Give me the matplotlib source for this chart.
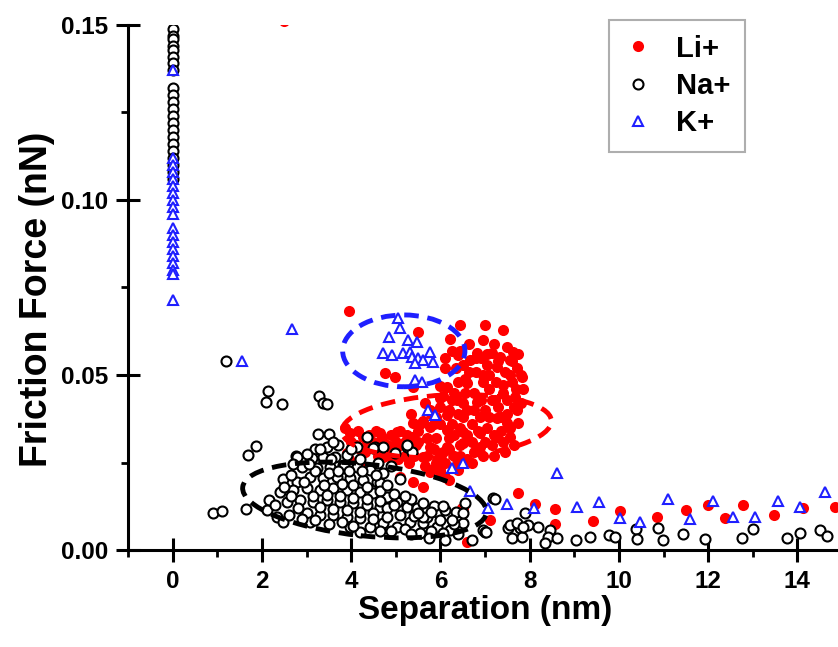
import numpy as np
import matplotlib
matplotlib.use('Agg')
import matplotlib.pyplot as plt
from matplotlib.patches import Ellipse
from matplotlib.transforms import Affine2D
from matplotlib.ticker import MultipleLocator

plt.rcParams['font.family'] = ['Liberation Sans', 'DejaVu Sans']
plt.rcParams['font.weight'] = 'bold'

# Li+ (x nm, friction nN)
li_points = [
    (2.49, 0.1511),
    (3.95, 0.0683), (5.49, 0.0623), (6.44, 0.0643), (7.0, 0.0643), (7.4, 0.0629),
    (4.75, 0.0506), (4.98, 0.0494), (5.38, 0.0466), (6.21, 0.0603), (6.39, 0.0557),
    (6.82, 0.0563), (7.15, 0.0563), (7.62, 0.0566), (7.33, 0.0551), (7.56, 0.0543),
    (7.83, 0.0494), (7.71, 0.052), (6.1, 0.0549), (6.66, 0.0543), (7.04, 0.0529),
    (7.26, 0.0523), (6.14, 0.0466), (6.59, 0.0477), (6.95, 0.048), (7.4, 0.0471),
    (7.67, 0.0437), (7.74, 0.0363), (7.56, 0.0323), (7.71, 0.04), (5.99, 0.0434),
    (6.37, 0.0429), (6.82, 0.0423), (7.22, 0.0429), (5.76, 0.04), (6.14, 0.0386),
    (6.5, 0.038), (6.88, 0.038), (7.26, 0.0377), (7.49, 0.0363), (5.38, 0.0363),
    (5.76, 0.0351), (6.14, 0.0343), (6.5, 0.0337), (6.88, 0.0334), (7.26, 0.0323),
    (4.64, 0.0334), (5.02, 0.0337), (5.36, 0.0323), (4.26, 0.0323), (3.97, 0.0334),
    (5.02, 0.0294), (5.38, 0.0294), (5.76, 0.0294), (6.14, 0.0294), (6.5, 0.0306),
    (6.88, 0.0294), (5.61, 0.0266), (5.99, 0.0271), (6.37, 0.0263), (5.76, 0.0223),
    (5.99, 0.0223), (5.38, 0.0194), (3.9, 0.0277), (4.71, 0.0266), (4.42, 0.0294),
    (4.1, 0.030), (4.3, 0.028), (4.5, 0.031), (4.6, 0.027), (4.8, 0.030), (4.9, 0.033),
    (5.2, 0.031), (5.2, 0.027), (5.5, 0.031), (5.5, 0.034), (5.6, 0.037), (5.9, 0.032),
    (5.9, 0.038), (5.9, 0.025), (6.0, 0.047), (6.2, 0.040), (6.2, 0.032), (6.3, 0.027),
    (6.3, 0.045), (6.35, 0.052), (6.45, 0.035), (6.5, 0.042), (6.55, 0.049), (6.6, 0.026),
    (6.7, 0.031), (6.7, 0.036), (6.75, 0.045), (6.8, 0.051), (6.9, 0.055), (6.95, 0.027),
    (7.0, 0.040), (7.05, 0.035), (7.1, 0.046), (7.1, 0.050), (7.15, 0.030), (7.3, 0.041),
    (7.35, 0.034), (7.4, 0.045), (7.45, 0.051), (7.5, 0.039), (7.6, 0.048), (7.65, 0.030),
    (7.2, 0.027), (7.45, 0.028), (6.05, 0.028), (5.65, 0.024), (5.3, 0.025), (5.85, 0.036),
    (6.25, 0.036), (6.6, 0.040), (7.0, 0.031), (5.1, 0.034), (4.85, 0.027), (4.4, 0.033),
    (6.45, 0.057), (6.65, 0.059), (6.95, 0.060), (7.2, 0.059), (7.5, 0.058), (7.75, 0.056),
    (7.85, 0.046), (7.8, 0.042), (3.86, 0.035),
    (4.0, 0.031), (4.2, 0.029), (4.35, 0.031), (4.55, 0.029), (4.7, 0.032), (4.75, 0.028),
    (5.0, 0.031), (5.05, 0.026), (5.25, 0.033), (5.4, 0.027), (5.45, 0.030), (5.55, 0.036),
    (5.7, 0.027), (5.7, 0.032), (5.8, 0.039), (5.85, 0.029), (6.0, 0.036), (6.0, 0.041),
    (6.1, 0.025), (6.2, 0.029), (6.25, 0.043), (6.3, 0.033), (6.4, 0.039), (6.4, 0.048),
    (6.45, 0.030), (6.55, 0.045), (6.6, 0.033), (6.65, 0.051), (6.75, 0.028), (6.75, 0.040),
    (6.8, 0.055), (6.85, 0.034), (6.9, 0.043), (6.95, 0.050), (7.05, 0.056), (7.1, 0.038),
    (7.15, 0.043), (7.2, 0.033), (7.25, 0.048), (7.3, 0.054), (7.35, 0.038), (7.4, 0.031),
    (7.5, 0.043), (7.55, 0.050), (7.55, 0.035), (7.65, 0.041), (7.7, 0.046), (7.8, 0.050),
    (7.6, 0.054), (6.1, 0.052), (6.25, 0.057), (6.5, 0.053), (6.05, 0.044), (5.65, 0.042),
    (5.35, 0.039), (4.55, 0.034), (4.15, 0.034), (5.8, 0.023), (6.1, 0.021), (6.35, 0.024),
    (6.7, 0.025), (6.45, 0.027),
    (5.1, 0.021), (5.6, 0.018), (6.2, 0.020), (6.4, 0.023), (4.2, 0.024), (3.95, 0.026),
    (5.99, 0.0229), (6.5, 0.012), (6.59, 0.0023), (7.11, 0.0086), (6.48, 0.012),
    (7.74, 0.0163), (8.12, 0.0131), (8.57, 0.0117), (8.57, 0.0074), (9.42, 0.0083),
    (10.02, 0.0111), (10.85, 0.0094), (11.5, 0.0114), (12.0, 0.0129), (12.38, 0.0091),
    (12.78, 0.0129), (13.48, 0.010), (14.13, 0.012), (14.84, 0.0123),
]

na_col_y = [0.149, 0.147, 0.146, 0.144, 0.143, 0.141, 0.139, 0.137, 0.132, 0.130,
            0.128, 0.126, 0.124, 0.122, 0.120, 0.118, 0.116, 0.114, 0.112, 0.110,
            0.108, 0.106]

na_points = [
    (1.19, 0.054), (2.13, 0.0454), (2.09, 0.0423), (2.44, 0.0417), (3.27, 0.044),
    (3.36, 0.042), (3.45, 0.0417), (1.86, 0.0297), (1.7, 0.0271), (2.76, 0.0269),
    (0.9, 0.0106), (1.1, 0.0111), (1.64, 0.0117), (2.47, 0.0203), (3.25, 0.0331),
    (3.5, 0.0331), (3.7, 0.030), (3.18, 0.029), (3.45, 0.0294), (3.12, 0.0263),
    (3.36, 0.0266), (3.63, 0.0266), (3.9, 0.0271), (4.13, 0.0294), (4.35, 0.0323),
    (4.53, 0.0294), (4.71, 0.0294), (4.98, 0.0277), (5.25, 0.0294), (5.36, 0.028),
    (2.78, 0.0266), (2.91, 0.0237), (3.23, 0.0234), (3.52, 0.0237), (3.81, 0.0243),
    (4.13, 0.0237), (4.42, 0.0229), (4.71, 0.022), (3.07, 0.0209), (3.36, 0.0206),
    (3.68, 0.0209), (3.97, 0.0206), (4.26, 0.020), (4.57, 0.0194), (2.78, 0.0194),
    (2.17, 0.0143), (2.40, 0.0166), (2.69, 0.0171), (3.0, 0.0177), (3.3, 0.0171),
    (3.59, 0.0177), (3.9, 0.0171), (4.19, 0.0166), (4.48, 0.0163), (4.8, 0.0151),
    (5.09, 0.0143), (2.56, 0.0137), (2.85, 0.0143), (3.14, 0.0137), (3.45, 0.0143),
    (3.74, 0.0137), (4.04, 0.0134), (4.35, 0.0129), (4.64, 0.0123), (2.11, 0.0114),
    (2.33, 0.0094), (2.47, 0.008), (3.0, 0.0106), (3.3, 0.010), (3.59, 0.010),
    (3.9, 0.0094), (4.19, 0.0091), (4.48, 0.0106), (4.8, 0.012), (5.02, 0.0137),
    (5.25, 0.0123), (5.47, 0.012), (5.7, 0.0114), (5.92, 0.0109), (6.14, 0.010),
    (6.37, 0.0094), (6.5, 0.0077), (6.95, 0.0057), (4.42, 0.0066), (4.71, 0.0077),
    (5.02, 0.0066), (5.31, 0.008), (5.61, 0.0077), (5.92, 0.0066), (6.21, 0.0057),
    (4.19, 0.0051), (5.54, 0.0049), (6.05, 0.0049), (5.09, 0.0203), (5.25, 0.030),
    (4.48, 0.0291), (7.18, 0.0149), (7.0, 0.0051), (6.55, 0.0134), (4.64, 0.0191),
    (3.97, 0.0066), (3.07, 0.008),
    (2.65, 0.0215), (2.95, 0.0195), (3.2, 0.0225), (3.5, 0.022), (3.8, 0.019),
    (4.05, 0.0185), (4.35, 0.018), (4.65, 0.017), (2.8, 0.012), (3.15, 0.0155),
    (3.45, 0.0158), (3.75, 0.0155), (4.05, 0.015), (4.35, 0.0147), (4.65, 0.014),
    (4.95, 0.013), (3.3, 0.0123), (3.6, 0.0118), (3.9, 0.0115), (4.2, 0.011),
    (4.5, 0.009), (4.8, 0.0095), (5.1, 0.010), (5.4, 0.0098), (5.7, 0.0095),
    (6.0, 0.0085), (6.3, 0.0075), (4.9, 0.0055), (5.2, 0.006), (5.8, 0.0055),
    (6.4, 0.0045), (5.6, 0.0095), (3.55, 0.026), (3.85, 0.024), (4.2, 0.026),
    (4.0, 0.029), (4.6, 0.025), (4.9, 0.024), (3.0, 0.0275), (2.65, 0.0155),
    (5.35, 0.0145), (5.6, 0.0135), (5.85, 0.0125), (6.1, 0.0115), (6.35, 0.011),
    (2.5, 0.018), (2.3, 0.013), (2.6, 0.010), (2.9, 0.009), (3.2, 0.0085),
    (3.5, 0.0075), (3.8, 0.008), (4.05, 0.007), (3.4, 0.0185), (3.7, 0.0225),
    (3.95, 0.0225), (4.25, 0.0225), (4.55, 0.0215), (4.8, 0.0185), (4.95, 0.016),
    (3.3, 0.029), (3.6, 0.031), (2.7, 0.0245), (3.05, 0.0245), (5.2, 0.0155),
    (5.5, 0.0105), (5.8, 0.011), (6.05, 0.0125), (6.25, 0.0085), (6.5, 0.0105),
    (4.65, 0.0055), (5.35, 0.0045), (5.75, 0.0035), (6.1, 0.003),
    (7.22, 0.0146), (7.89, 0.0106), (7.02, 0.0051), (7.51, 0.0063), (7.6, 0.0034),
    (7.78, 0.0063), (7.83, 0.0037), (7.96, 0.0071), (8.18, 0.0066), (8.45, 0.0057),
    (8.41, 0.0037), (8.61, 0.0034), (8.34, 0.002), (9.04, 0.0029), (9.35, 0.0037),
    (9.78, 0.0043), (9.91, 0.0037), (10.38, 0.006), (10.4, 0.0031), (10.87, 0.0063),
    (10.99, 0.0029), (11.43, 0.0046), (11.93, 0.0031), (12.76, 0.0034), (13.0, 0.006),
    (13.77, 0.0034), (14.06, 0.0049), (14.51, 0.0057), (14.66, 0.004), (6.7, 0.003),
    (7.56, 0.0071), (7.71, 0.0077), (7.85, 0.0066),
]

k_col_y = [0.137, 0.112, 0.110, 0.108, 0.106, 0.104, 0.102, 0.100, 0.098, 0.096,
           0.092, 0.090, 0.088, 0.086, 0.084, 0.082, 0.080, 0.079, 0.0715]

k_points = [
    (2.67, 0.0631), (1.55, 0.054),
    (5.04, 0.0663), (5.09, 0.0634), (4.84, 0.0609), (5.27, 0.060), (5.47, 0.0594),
    (4.71, 0.0563), (4.91, 0.0557), (5.16, 0.0563), (5.31, 0.0566), (5.36, 0.0551),
    (5.49, 0.0549), (5.61, 0.0543), (5.76, 0.0566), (5.83, 0.0537), (5.43, 0.0534),
    (5.43, 0.0486), (5.58, 0.048), (5.72, 0.040), (5.87, 0.0386), (6.26, 0.0234),
    (6.5, 0.0249), (8.61, 0.022), (6.66, 0.0169), (7.06, 0.012), (7.49, 0.0131),
    (8.09, 0.012), (9.06, 0.0123), (9.55, 0.0137), (10.02, 0.0091), (10.47, 0.008),
    (11.1, 0.0146), (11.6, 0.0089), (12.1, 0.014), (12.56, 0.0094), (13.05, 0.0094),
    (13.57, 0.014), (14.06, 0.0123), (14.62, 0.0166),
]

li_x, li_y = zip(*li_points)
na_x = [0.0] * len(na_col_y) + [p[0] for p in na_points]
na_y = na_col_y + [p[1] for p in na_points]
k_x = [0.0] * len(k_col_y) + [p[0] for p in k_points]
k_y = k_col_y + [p[1] for p in k_points]

# dashed ellipses: centre x, centre y, width (nm), height (nm-equivalent), angle
ell_black = (4.30, 0.0143, 5.49, 1.61, -6)
ell_red = (6.14, 0.0354, 4.70, 1.40, 3)
ell_blue = (5.18, 0.0569, 2.74, 1.61, 0)

fig = plt.figure(figsize=(8.38, 6.47), dpi=100)
ax = fig.add_axes([128 / 838, 1 - 550 / 647, 710 / 838, 525 / 647])

ax.plot(li_x, li_y, 'o', color='#ff0000', markersize=8, markeredgewidth=0,
        label='Li+', zorder=2)
ax.plot(na_x, na_y, 'o', color='black', markerfacecolor='white', markersize=7.2,
        markeredgewidth=1.5, label='Na+', zorder=3)
ax.plot(k_x, k_y, '^', color='#1f1fff', markerfacecolor='white', markersize=7.5,
        markeredgewidth=1.5, label='K+', zorder=4)

# ellipses drawn in a y-rescaled frame so the angle is a true screen angle
yk = 3500 / 44.6
tr = Affine2D().scale(1, 1 / yk) + ax.transData
for (cx, cy, w, h, ang), col in [(ell_black, 'black'), (ell_red, '#ff0000'),
                                 (ell_blue, '#1f1fff')]:
    e = Ellipse((cx, cy * yk), w, h, angle=ang, fill=False, edgecolor=col,
                linewidth=3.5, linestyle=(0, (3, 1.8)), transform=tr, zorder=5)
    ax.add_patch(e)

ax.set_xlim(-1.0, 14.91)
ax.set_ylim(0, 0.15)
ax.xaxis.set_major_locator(MultipleLocator(2))
ax.xaxis.set_minor_locator(MultipleLocator(1))
ax.yaxis.set_major_locator(MultipleLocator(0.05))
ax.yaxis.set_minor_locator(MultipleLocator(0.025))
ax.yaxis.set_major_formatter(matplotlib.ticker.FormatStrFormatter('%.2f'))

for s in ['top', 'right']:
    ax.spines[s].set_visible(False)
for s in ['left', 'bottom']:
    ax.spines[s].set_linewidth(2.2)

ax.tick_params(which='major', direction='inout', length=17, width=2.2,
               labelsize=17.5, pad=6)
ax.tick_params(which='minor', direction='out', length=5, width=2.0)
for lab in ax.get_xticklabels() + ax.get_yticklabels():
    lab.set_fontweight('bold')

ax.set_xlabel('Separation (nm)', fontsize=24, fontweight='bold')
ax.set_ylabel('Friction Force (nN)', fontsize=27, fontweight='bold')
ax.xaxis.set_label_coords((485 - 128) / 710, -(595 - 550) / 525)
ax.yaxis.set_label_coords(-(128 - 55) / 710, (550 - 299) / 525)

leg = ax.legend(loc='upper right', bbox_to_anchor=(745 / 838, 1 - 20 / 647),
                bbox_transform=fig.transFigure, borderaxespad=0,
                prop={'size': 21, 'weight': 'bold'}, handlelength=1.0,
                handletextpad=0.8, labelspacing=0.32, borderpad=0.5,
                fancybox=False, edgecolor='#9a9a9a')
leg.get_frame().set_linewidth(1.5)

fig.savefig('out.png', dpi=100)
